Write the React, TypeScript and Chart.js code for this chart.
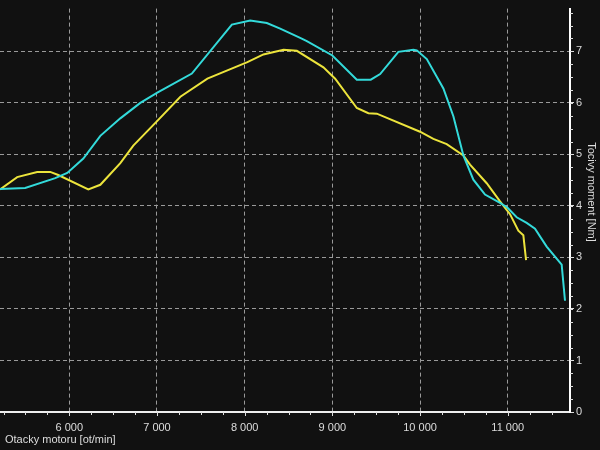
import React, { useEffect, useRef } from "react";
import { Chart, registerables } from "chart.js";

Chart.register(...registerables);

const rpmCyan = [5210, 5497, 5840, 5977, 6160, 6354, 6582, 6810, 7004, 7398, 7854, 8063, 8253, 8405, 8633, 8709, 9000, 9279, 9438, 9545, 9753, 9924, 9963, 10077, 10266, 10380, 10494, 10608, 10741, 10912, 10995, 11102, 11216, 11311, 11444, 11615, 11653];
const torqueCyan = [4.33, 4.35, 4.54, 4.64, 4.92, 5.36, 5.70, 6.0, 6.20, 6.57, 7.52, 7.60, 7.55, 7.44, 7.26, 7.20, 6.92, 6.45, 6.45, 6.56, 6.99, 7.03, 7.02, 6.85, 6.28, 5.74, 4.98, 4.51, 4.22, 4.06, 3.97, 3.78, 3.67, 3.56, 3.21, 2.86, 2.16];

const rpmYellow = [5210, 5406, 5634, 5783, 5874, 6217, 6354, 6582, 6730, 7004, 7267, 7575, 8031, 8214, 8443, 8595, 8898, 9032, 9279, 9411, 9507, 10000, 10152, 10304, 10494, 10570, 10760, 10912, 11026, 11121, 11178, 11209];
const torqueYellow = [4.32, 4.56, 4.66, 4.66, 4.60, 4.32, 4.41, 4.83, 5.17, 5.65, 6.12, 6.47, 6.79, 6.94, 7.03, 7.01, 6.69, 6.47, 5.90, 5.80, 5.79, 5.44, 5.30, 5.20, 4.98, 4.80, 4.44, 4.09, 3.84, 3.52, 3.43, 2.95];

const xTickValues = [6000, 7000, 8000, 9000, 10000, 11000];
const yTickValues = [0, 1, 2, 3, 4, 5, 6, 7];
const xTitle = "Otacky motoru [ot/min]";
const yTitle = "Tocivy moment [Nm]";

const FONT = "'Liberation Sans', Arial, sans-serif";

export default function App() {
  const ref = useRef<HTMLCanvasElement>(null);
  useEffect(() => {
    document.body.style.margin = "0";
    document.body.style.background = "#111111";
    const canvas = ref.current;
    if (!canvas) return;
    const bgPlugin = {
      id: "bg",
      beforeDraw(chart: any) {
        const c = chart.ctx;
        c.save();
        c.fillStyle = "#111111";
        c.fillRect(0, 0, chart.width, chart.height);
        c.restore();
      },
      afterDraw(chart: any) {
        const c = chart.ctx;
        const xs = chart.scales.x;
        const ys = chart.scales.y;
        const area = chart.chartArea;
        c.save();
        c.strokeStyle = "#dddddd";
        c.lineWidth = 1;
        // minor x ticks
        for (let v = 5250; v < xs.max; v += 250) {
          const px = Math.round(xs.getPixelForValue(v)) + 0.5;
          c.beginPath();
          c.moveTo(px, area.bottom);
          c.lineTo(px, area.bottom + (v % 1000 === 0 ? 4 : 3));
          c.stroke();
        }
        // minor y ticks
        for (let v = 0.25; v < ys.max; v += 0.25) {
          const py = Math.round(ys.getPixelForValue(v)) + 0.5;
          c.beginPath();
          c.moveTo(area.right, py);
          c.lineTo(area.right + 3, py);
          c.stroke();
        }
        c.fillStyle = "#dddddd";
        c.font = "11px " + FONT;
        c.textBaseline = "middle";
        c.textAlign = "left";
        c.fillText(xTitle, 5, 440);
        c.translate(591, 192);
        c.rotate(Math.PI / 2);
        c.textAlign = "center";
        c.fillText(yTitle, 0, 0);
        c.restore();
      },
    };
    const chart = new Chart(canvas, {
      type: "line",
      data: {
        datasets: [
          {
            data: rpmCyan.map((x, i) => ({ x, y: torqueCyan[i] })),
            borderColor: "#33dada",
            borderWidth: 2,
            pointRadius: 0,
            tension: 0,
            fill: false,
          },
          {
            data: rpmYellow.map((x, i) => ({ x, y: torqueYellow[i] })),
            borderColor: "#ece43c",
            borderWidth: 2,
            pointRadius: 0,
            tension: 0,
            fill: false,
          },
        ],
      },
      options: {
        animation: false,
        responsive: false,
        devicePixelRatio: 1,
        layout: { padding: 0 },
        plugins: { legend: { display: false }, tooltip: { enabled: false } },
        scales: {
          x: {
            type: "linear",
            position: "bottom",
            min: 5210,
            max: 11710,
            afterFit: (s: any) => {
              s.height = 38;
            },
            afterBuildTicks: (s: any) => {
              s.ticks = xTickValues.map((v) => ({ value: v }));
            },
            ticks: {
              color: "#dddddd",
              font: { family: FONT, size: 11 },
              padding: 9,
              maxRotation: 0,
              autoSkip: false,
              callback: (v: any) => String(v).replace(/\B(?=(\d{3})+(?!\d))/g, " "),
            },
            grid: { color: "#9a9a9a", drawTicks: false, lineWidth: 1 },
            border: { color: "#eeeeee", width: 2, dash: [4, 3] },
          },
          y: {
            type: "linear",
            position: "right",
            min: 0,
            max: 7.83,
            afterFit: (s: any) => {
              s.width = 30;
            },
            afterBuildTicks: (s: any) => {
              s.ticks = yTickValues.map((v) => ({ value: v }));
            },
            ticks: {
              color: "#dddddd",
              font: { family: FONT, size: 11 },
              padding: 2,
              callback: (v: any) => String(v),
            },
            grid: { color: "#9a9a9a", drawTicks: true, tickLength: 4, tickColor: "#dddddd", tickBorderDash: [], lineWidth: 1 },
            border: { color: "#ffffff", width: 2, dash: [4, 3] },
          },
        },
      },
      plugins: [bgPlugin],
    });
    return () => chart.destroy();
  }, []);
  return <canvas ref={ref} width={600} height={450} style={{ display: "block", width: 600, height: 450 }} />;
}
